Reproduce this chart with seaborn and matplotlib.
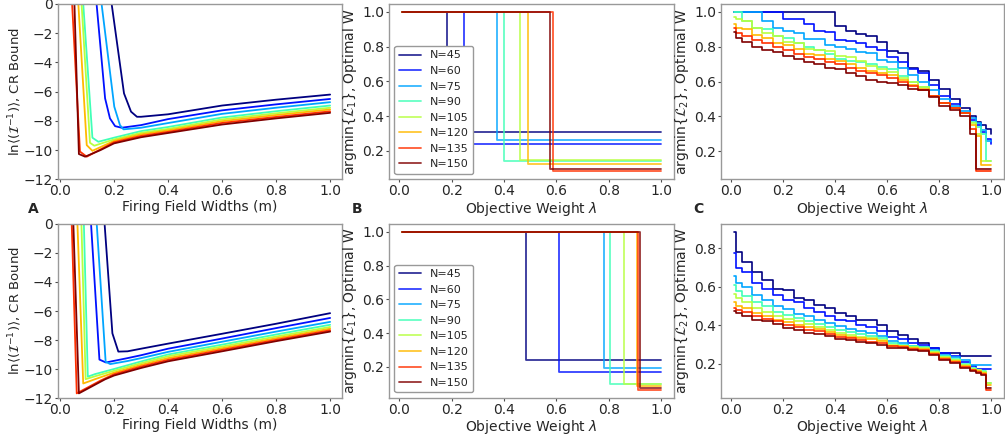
import numpy as np
import pandas as pd
import matplotlib
matplotlib.use("Agg")
import matplotlib.pyplot as plt
from matplotlib.lines import Line2D
import seaborn as sns

# --- Data ---
n_values = [45, 60, 75, 90, 105, 120, 135, 150]

# Panel A, top row: CR bound vs firing field width (one list per N)
crb_top_w = [
    [0.189, 0.237, 0.263, 0.285, 0.30, 0.40, 0.60, 0.80, 1.0],
    [0.134, 0.167, 0.185, 0.204, 0.228, 0.30, 0.40, 0.60, 0.80, 1.0],
    [0.152, 0.201, 0.222, 0.235, 0.30, 0.40, 0.60, 0.80, 1.0],
    [0.085, 0.12, 0.142, 0.20, 0.30, 0.40, 0.60, 0.80, 1.0],
    [0.079, 0.111, 0.127, 0.20, 0.30, 0.40, 0.60, 0.80, 1.0],
    [0.067, 0.099, 0.12, 0.20, 0.30, 0.40, 0.60, 0.80, 1.0],
    [0.044, 0.074, 0.099, 0.15, 0.20, 0.30, 0.40, 0.60, 0.80, 1.0],
    [0.053, 0.07, 0.093, 0.15, 0.20, 0.30, 0.40, 0.60, 0.80, 1.0],
]
crb_top_v = [
    [0.3, -6.12, -7.37, -7.72, -7.72, -7.55, -6.95, -6.55, -6.2],
    [0.3, -6.46, -7.83, -8.36, -8.47, -8.29, -7.88, -7.28, -6.87, -6.5],
    [0.3, -7.03, -8.29, -8.58, -8.47, -8.15, -7.52, -7.1, -6.72],
    [0.3, -9.15, -9.43, -9.15, -8.7, -8.42, -7.77, -7.34, -6.95],
    [0.3, -9.5, -9.7, -9.27, -8.82, -8.55, -7.9, -7.48, -7.1],
    [0.3, -9.66, -10.05, -9.37, -8.92, -8.65, -8.02, -7.6, -7.22],
    [0.3, -10.1, -10.45, -9.95, -9.46, -9.03, -8.75, -8.14, -7.73, -7.35],
    [0.3, -10.27, -10.45, -10.0, -9.54, -9.12, -8.83, -8.25, -7.83, -7.45],
]

# Panel A, bottom row
crb_bot_w = [
    [0.164, 0.194, 0.216, 0.25, 0.30, 0.40, 0.60, 0.80, 1.0],
    [0.114, 0.146, 0.17, 0.25, 0.30, 0.40, 0.60, 0.80, 1.0],
    [0.135, 0.169, 0.186, 0.25, 0.30, 0.40, 0.60, 0.80, 1.0],
    [0.088, 0.103, 0.13, 0.20, 0.30, 0.40, 0.60, 0.80, 1.0],
    [0.079, 0.095, 0.13, 0.20, 0.30, 0.40, 0.60, 0.80, 1.0],
    [0.064, 0.086, 0.13, 0.20, 0.30, 0.40, 0.60, 0.80, 1.0],
    [0.043, 0.062, 0.10, 0.15, 0.20, 0.30, 0.40, 0.60, 0.80, 1.0],
    [0.049, 0.07, 0.105, 0.167, 0.20, 0.30, 0.40, 0.60, 0.80, 1.0],
]
crb_bot_v = [
    [0.3, -7.54, -8.8, -8.78, -8.6, -8.25, -7.57, -6.88, -6.15],
    [0.3, -9.35, -9.55, -9.25, -9.05, -8.6, -7.9, -7.18, -6.48],
    [0.3, -9.5, -9.66, -9.45, -9.25, -8.82, -8.12, -7.42, -6.75],
    [0.3, -10.53, -10.35, -10.0, -9.48, -9.0, -8.32, -7.62, -6.95],
    [0.3, -10.7, -10.5, -10.12, -9.6, -9.12, -8.45, -7.76, -7.1],
    [0.3, -11.0, -10.7, -10.25, -9.72, -9.25, -8.57, -7.88, -7.22],
    [0.3, -11.68, -11.3, -10.8, -10.36, -9.83, -9.37, -8.68, -7.99, -7.33],
    [0.3, -11.68, -11.33, -10.71, -10.45, -9.93, -9.47, -8.78, -8.08, -7.42],
]

# Panel B: argmin L1 -- switch point and final width per N
l1_start = 0.01
l1_top_switch = [0.184, 0.249, 0.375, 0.40, 0.46, 0.492, 0.589, 0.574]
l1_top_final = [0.306, 0.236, 0.26, 0.142, 0.145, 0.121, 0.081, 0.096]
l1_bot_switch = [0.483, 0.609, 0.781, 0.806, 0.857, 0.907, 0.913, 0.919]
l1_bot_final = [0.239, 0.173, 0.194, 0.102, 0.100, 0.088, 0.063, 0.073]

# Panel C: argmin L2 staircases
lam = [0.01, 0.02, 0.04, 0.08, 0.12, 0.16, 0.20, 0.24, 0.28, 0.32, 0.36, 0.40,
       0.44, 0.48, 0.52, 0.56, 0.60, 0.64, 0.68, 0.72, 0.76, 0.80, 0.84, 0.88,
       0.92, 0.94, 0.96, 0.98, 1.00]
l2_top = [
    [1, 1, 1, 1, 1, 1, 1, 1, 1, 1, 1, 0.92, 0.89, 0.875, 0.86, 0.83, 0.775, 0.765,
     0.68, 0.66, 0.61, 0.56, 0.50, 0.45, 0.40, 0.37, 0.35, 0.33, 0.30],
    [1, 1, 1, 1, 1, 1, 0.96, 0.96, 0.93, 0.89, 0.885, 0.84, 0.835, 0.82, 0.80, 0.78,
     0.74, 0.71, 0.67, 0.65, 0.58, 0.52, 0.47, 0.42, 0.38, 0.35, 0.31, 0.27, 0.24],
    [1, 1, 1, 1, 0.95, 0.91, 0.89, 0.88, 0.845, 0.845, 0.81, 0.80, 0.79, 0.77, 0.765,
     0.725, 0.715, 0.68, 0.64, 0.60, 0.55, 0.50, 0.46, 0.43, 0.39, 0.36, 0.32, 0.26, 0.26],
    [1.0, 1.0, 0.95, 0.91, 0.90, 0.86, 0.85, 0.82, 0.80, 0.78, 0.76, 0.73, 0.72, 0.715,
     0.70, 0.685, 0.67, 0.63, 0.60, 0.57, 0.52, 0.48, 0.45, 0.42, 0.37, 0.34, 0.30, 0.145, 0.145],
    [0.97, 0.96, 0.95, 0.91, 0.88, 0.86, 0.83, 0.82, 0.79, 0.78, 0.775, 0.745, 0.74, 0.72,
     0.69, 0.675, 0.655, 0.62, 0.60, 0.57, 0.52, 0.48, 0.45, 0.42, 0.36, 0.30, 0.145, 0.145, 0.145],
    [0.93, 0.91, 0.90, 0.87, 0.85, 0.82, 0.81, 0.79, 0.76, 0.755, 0.73, 0.72, 0.70, 0.68,
     0.66, 0.65, 0.64, 0.61, 0.58, 0.56, 0.52, 0.48, 0.45, 0.42, 0.35, 0.29, 0.12, 0.12, 0.12],
    [0.91, 0.88, 0.86, 0.84, 0.82, 0.80, 0.78, 0.76, 0.74, 0.73, 0.71, 0.70, 0.68, 0.66,
     0.65, 0.64, 0.62, 0.60, 0.575, 0.55, 0.52, 0.475, 0.45, 0.42, 0.33, 0.085, 0.085, 0.085, 0.085],
    [0.885, 0.85, 0.83, 0.80, 0.78, 0.77, 0.75, 0.73, 0.71, 0.70, 0.68, 0.67, 0.65, 0.63,
     0.61, 0.60, 0.59, 0.58, 0.56, 0.55, 0.51, 0.46, 0.44, 0.40, 0.30, 0.10, 0.10, 0.10, 0.10],
]
l2_bot = [
    [0.886, 0.78, 0.73, 0.68, 0.636, 0.587, 0.584, 0.54, 0.532, 0.506, 0.49, 0.463, 0.446,
     0.428, 0.428, 0.40, 0.37, 0.35, 0.328, 0.307, 0.28, 0.255, 0.255, 0.238, 0.238, 0.238,
     0.238, 0.238, 0.238],
    [0.775, 0.70, 0.68, 0.62, 0.59, 0.56, 0.53, 0.52, 0.49, 0.47, 0.45, 0.43, 0.42, 0.40,
     0.39, 0.37, 0.34, 0.33, 0.31, 0.30, 0.28, 0.255, 0.24, 0.21, 0.19, 0.173, 0.173, 0.173, 0.173],
    [0.655, 0.62, 0.60, 0.56, 0.53, 0.50, 0.485, 0.46, 0.45, 0.43, 0.41, 0.395, 0.38, 0.37,
     0.36, 0.345, 0.32, 0.31, 0.295, 0.285, 0.27, 0.245, 0.235, 0.22, 0.194, 0.194, 0.194, 0.194, 0.194],
    [0.61, 0.58, 0.55, 0.52, 0.50, 0.47, 0.455, 0.44, 0.42, 0.405, 0.39, 0.375, 0.365, 0.355,
     0.345, 0.335, 0.31, 0.30, 0.29, 0.285, 0.265, 0.24, 0.225, 0.20, 0.18, 0.17, 0.16, 0.102, 0.102],
    [0.565, 0.54, 0.52, 0.49, 0.47, 0.45, 0.435, 0.42, 0.405, 0.39, 0.375, 0.36, 0.35, 0.34,
     0.335, 0.325, 0.30, 0.295, 0.285, 0.28, 0.26, 0.235, 0.22, 0.195, 0.175, 0.165, 0.155, 0.102, 0.102],
    [0.52, 0.50, 0.49, 0.465, 0.45, 0.43, 0.415, 0.40, 0.39, 0.38, 0.365, 0.35, 0.34, 0.335,
     0.33, 0.32, 0.295, 0.29, 0.28, 0.275, 0.255, 0.23, 0.215, 0.19, 0.17, 0.16, 0.15, 0.088, 0.088],
    [0.49, 0.48, 0.47, 0.45, 0.435, 0.42, 0.40, 0.39, 0.375, 0.37, 0.355, 0.34, 0.335, 0.325,
     0.315, 0.31, 0.29, 0.285, 0.275, 0.27, 0.25, 0.225, 0.21, 0.185, 0.165, 0.155, 0.145, 0.063, 0.063],
    [0.475, 0.465, 0.45, 0.43, 0.42, 0.405, 0.385, 0.375, 0.36, 0.355, 0.345, 0.33, 0.325, 0.315,
     0.307, 0.30, 0.28, 0.28, 0.27, 0.265, 0.245, 0.22, 0.205, 0.18, 0.16, 0.15, 0.14, 0.073, 0.073],
]

# --- Style ---
sns.set_style("white", {"axes.edgecolor": "0.6", "xtick.bottom": True, "ytick.left": True})
plt.rcParams["font.family"] = ["DejaVu Sans"]
plt.rcParams["mathtext.fontset"] = "dejavusans"

labels = [f"N={n}" for n in n_values]
colors = plt.cm.jet(np.linspace(0, 1, len(n_values)))
palette = dict(zip(labels, colors))


def long_frame(xs, ys):
    parts = [pd.DataFrame({"x": x, "y": y, "N": lab}) for lab, x, y in zip(labels, xs, ys)]
    return pd.concat(parts, ignore_index=True)


def draw(ax, df, **kw):
    sns.lineplot(data=df, x="x", y="y", hue="N", hue_order=labels, palette=palette,
                 estimator=None, sort=False, legend=False, ax=ax, **kw)
    ax.set_xticks([0.0, 0.2, 0.4, 0.6, 0.8, 1.0])
    ax.tick_params(labelsize=10, length=2, width=0.8, color="0.3", pad=1.5)
    for s in ax.spines.values():
        s.set_linewidth(1.0)


fig = plt.figure(figsize=(10.05, 4.38), dpi=100)
col_x = [0.0577, 0.387, 0.7174]
col_w = [0.2826, 0.2836, 0.2816]
row_y = [(0.5906, 0.4003), (0.0913, 0.3973)]

crb_w = [crb_top_w, crb_bot_w]
crb_v = [crb_top_v, crb_bot_v]
l1_switch = [l1_top_switch, l1_bot_switch]
l1_final = [l1_top_final, l1_bot_final]
l2 = [l2_top, l2_bot]

for r, (y0, h) in enumerate(row_y):
    # A: CR bound
    ax = fig.add_axes([col_x[0], y0, col_w[0], h])
    draw(ax, long_frame(crb_w[r], crb_v[r]), lw=1.3)
    ax.set_xlim(-0.0074, 1.044)
    ax.set_ylim(-12, 0)
    ax.set_xlabel("Firing Field Widths (m)", fontsize=10, labelpad=1)
    ax.set_ylabel(r"ln$\langle(\mathcal{I}^{-1})\rangle$, CR Bound", fontsize=9.5, labelpad=0)

    # B: argmin L1
    ax = fig.add_axes([col_x[1], y0, col_w[1], h])
    xs = [[l1_start, s, 1.0] for s in l1_switch[r]]
    ys = [[1.0, f, f] for f in l1_final[r]]
    draw(ax, long_frame(xs, ys), lw=1.3, alpha=0.8, drawstyle="steps-post")
    ax.set_xlabel(r"Objective Weight $\lambda$", fontsize=10, labelpad=1)
    ax.set_ylabel(r"argmin$\{\mathcal{L}_1\}$, Optimal W", fontsize=10, labelpad=2)
    handles = [Line2D([], [], color=c, lw=1.3, alpha=0.8) for c in colors]
    ax.legend(handles, labels, loc="lower left", fontsize=8, frameon=True,
              edgecolor="0.6", framealpha=1.0)

    # C: argmin L2
    ax = fig.add_axes([col_x[2], y0, col_w[2], h])
    draw(ax, long_frame([lam] * len(n_values), l2[r]), lw=1.2, drawstyle="steps-post")
    ax.set_xlabel(r"Objective Weight $\lambda$", fontsize=10, labelpad=1)
    ax.set_ylabel(r"argmin$\{\mathcal{L}_2\}$, Optimal W", fontsize=10, labelpad=2)

for letter, xp in zip(["A", "B", "C"], [33, 357, 698]):
    fig.text(xp / 1005, 1 - 209 / 438, letter, fontsize=10, fontweight="bold",
             ha="center", va="center")

fig.savefig("out.png", dpi=100)
